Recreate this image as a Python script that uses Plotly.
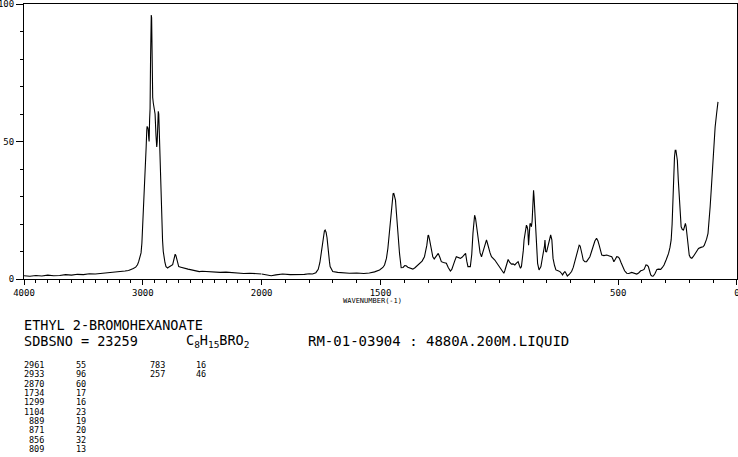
import plotly.graph_objects as go

# ---- spectrum (wavenumber cm-1, relative intensity) ----
wavenumber = [
    4000, 3950, 3900, 3850, 3800, 3750, 3700, 3650, 3600, 3550, 3500, 3450, 3400, 3350, 3300,
    3250, 3200, 3150, 3120, 3100, 3080, 3060, 3045, 3035, 3025, 3015, 3008, 3001, 2996, 2992,
    2986, 2981, 2976, 2972, 2967, 2964, 2958, 2955, 2950, 2947, 2943, 2939, 2935, 2933, 2929,
    2926, 2922, 2917, 2912, 2905, 2897, 2889, 2883, 2879, 2874, 2870, 2866, 2861, 2857, 2852,
    2846, 2842, 2838, 2834, 2828, 2822, 2814, 2805, 2791, 2780, 2771, 2760, 2749, 2740, 2733,
    2728, 2722, 2715, 2706, 2698, 2680, 2660, 2640, 2620, 2600, 2575, 2550, 2525, 2500, 2450,
    2400, 2350, 2300, 2245, 2200, 2150, 2100, 2050, 2000,
    1980, 1960, 1940, 1912, 1880, 1842, 1820, 1800, 1786, 1772, 1762, 1755, 1750, 1745, 1741,
    1736, 1733, 1729, 1725, 1720, 1715, 1712, 1705, 1701, 1680, 1660, 1631, 1600, 1570, 1547,
    1525, 1504, 1490, 1483, 1475, 1469, 1464, 1459, 1455, 1451, 1447, 1444, 1440, 1437, 1433,
    1429, 1424, 1420, 1413, 1405, 1398, 1392, 1385, 1375, 1364, 1355, 1345, 1336, 1325, 1315,
    1310, 1305, 1300, 1298, 1294, 1291, 1286, 1280, 1274, 1268, 1262, 1257, 1250, 1244, 1235,
    1223, 1215, 1206, 1200, 1195, 1188, 1181, 1174, 1164, 1157, 1150, 1145, 1142, 1137, 1132,
    1122, 1116, 1111, 1107, 1104, 1100, 1097, 1092, 1088, 1081, 1075, 1070, 1064, 1058, 1054,
    1050, 1045, 1039, 1033, 1025, 1019, 1012, 1005, 998, 991, 985, 981, 977, 973, 968,
    963, 956, 949, 942, 935, 928, 921, 916, 911, 907, 903, 899, 896, 891, 886,
    883, 880, 877, 874, 871, 868, 865, 862, 860, 858, 856, 854, 852, 849, 846,
    842, 839, 833, 829, 825, 818, 813, 810, 808, 805, 801, 797, 793, 788, 784,
    779, 776, 774, 768, 762, 753, 745, 738, 734, 729, 724, 719, 714, 705, 696,
    689, 682, 677, 672, 667, 664, 660, 657, 652, 647, 640, 633, 626, 619, 612,
    605, 598, 591, 585, 580, 574, 569, 560, 548, 537, 527, 522, 518, 512, 506,
    500, 495, 488, 482, 473, 464, 455, 443, 432, 422, 414, 405, 398, 391, 386,
    383, 378, 373, 368, 363, 357, 352, 345, 337, 330, 321, 314, 307, 298, 288,
    282, 277, 273, 270, 266, 263, 260, 257, 254, 251, 247, 243, 239, 235, 230,
    225, 221, 217, 214, 211, 206, 201, 196, 190, 183, 176, 169, 162, 152, 143,
    138, 134, 128, 122, 118, 113, 108, 103, 97, 92, 86, 80,
]
intensity = [
    1.2, 1.0, 1.3, 1.1, 1.4, 1.2, 1.3, 1.6, 1.4, 1.7, 1.6, 1.9, 1.8, 2.0, 2.1,
    2.4, 2.6, 2.9, 3.1, 3.4, 3.8, 4.3, 5.2, 6.3, 7.8, 9.5, 13, 19, 24, 28,
    35, 41, 45, 48, 54, 55.5, 55, 54.5, 51, 50, 58, 62, 80, 96, 96,
    95, 67, 66, 64, 62, 60, 52, 48, 50, 58, 61, 60, 52, 48, 44,
    30, 22, 17, 14, 10, 8, 6, 4.5, 4.0, 4.4, 4.8, 4.9, 5.2, 6.8, 8.3,
    9.0, 8.6, 7.0, 5.3, 4.5, 4.3, 4.0, 3.9, 3.6, 3.4, 3.1, 2.9, 2.7, 2.8, 2.6,
    2.5, 2.4, 2.5, 2.3, 2.2, 2.0, 2.1, 1.9, 1.8,
    1.6, 1.2, 1.5, 1.8, 1.6, 1.5, 1.7, 1.9, 1.8, 2.3, 3.5, 6.0, 9.3, 13, 15.4,
    17.5, 17.8, 17.0, 15, 9.3, 6.5, 4.5, 3.2, 2.7, 2.4, 2.2, 2.1, 2.2, 2.0, 2.2,
    2.6, 3.3, 4.2, 5.1, 7.5, 11.1, 16, 21.4, 26, 29.9, 31, 31.1, 30, 28.7, 24,
    19, 13, 9.3, 4.1, 4.2, 4.9, 4.8, 4.3, 4.0, 3.6, 4.1, 4.8, 5.7, 6.5, 8.1,
    10, 12.3, 15.8, 16, 14.5, 12.9, 10, 8.1, 7.3, 8.1, 9.0, 9.3, 7.8, 6.3, 6.0,
    5.7, 4.2, 2.9, 3.5, 4.5, 6.5, 8.1, 7.8, 7.5, 7.9, 8.7, 9.3, 9.3, 6.5, 4.5,
    4.5, 9, 16.6, 21, 23.2, 22, 20.2, 16, 12.9, 9.5, 8.1, 9.5, 11.7, 13.5, 14.2,
    13, 11.1, 9.5, 8.1, 7.5, 6.9, 6.0, 5.1, 4.2, 3.3, 2.4, 2.1, 3.0, 4.5, 6.0,
    7.1, 6.0, 5.4, 5.5, 5.1, 5.8, 6.3, 5.0, 3.9, 4.5, 6.9, 10.5, 14.2, 17.5, 19.6,
    19.0, 17.8, 12.3, 15, 20.2, 20.0, 19, 21, 23.8, 28, 32.3, 30, 26.3, 20, 14.2,
    9, 5.7, 3.3, 3.8, 4.5, 8.1, 9.9, 12, 14.2, 10, 9.9, 11.5, 12.9, 14.5, 16,
    14.2, 10, 7.5, 5, 3.3, 3.0, 2.7, 2.0, 1.5, 2.2, 2.7, 2.0, 1.1, 1.8, 2.7,
    4.2, 6.3, 8.2, 9.9, 11.5, 12.3, 12.0, 11.1, 9.0, 6.9, 6.3, 6.3, 7.0, 8.1, 10,
    12.3, 13.8, 14.8, 13.8, 12.3, 10.5, 8.7, 8.5, 8.7, 8.4, 8.1, 7.2, 6.3, 7.2, 8.1,
    8.0, 7.5, 6.0, 4.5, 3.0, 2.1, 2.0, 2.4, 2.0, 1.8, 2.2, 3.0, 3.2, 3.5, 4.5,
    5.1, 5.0, 4.5, 3.0, 1.5, 1.0, 1.1, 2.0, 3.5, 3.6, 3.5, 4.2, 5.1, 7.0, 9.3,
    11.5, 14.2, 20, 28.7, 37, 44.4, 46.8, 46.8, 45, 43.2, 36, 28.7, 22, 19, 18,
    17.8, 19, 20.2, 19, 16.6, 12, 8.7, 7.8, 7.5, 8.3, 9.3, 10.2, 11.1, 11.5, 11.7,
    12.2, 12.9, 14.5, 16.6, 20, 26.3, 33, 40.8, 48, 55.3, 60, 64.4,
]

# ---- axis ticks ----
x_left_ticks = [4000, 3000, 2000]
x_right_ticks = [1500, 500, 0]
y_ticks = [0, 50, 100]

# ---- text block ----
compound = "ETHYL 2-BROMOHEXANOATE"
sdbs_no = "SDBSNO = 23259"
formula = "C<sub>8</sub>H<sub>15</sub>BRO<sub>2</sub>"
sample_info = "RM-01-03904 : 4880A.200M.LIQUID"
axis_title = "WAVENUMBER(-1)"
peak_wn = [2961, 2933, 2870, 1734, 1299, 1104, 889, 871, 856, 809, 783, 257]
peak_int = [55, 96, 60, 17, 16, 23, 19, 20, 32, 13, 16, 46]

# split spectrum at the scale break (2000 cm-1)
left_x = [w for w in wavenumber if w >= 2000]
left_y = [v for w, v in zip(wavenumber, intensity) if w >= 2000]
right_x = [w for w in wavenumber if w <= 2000]
right_y = [v for w, v in zip(wavenumber, intensity) if w <= 2000]

W, H = 738, 457
ML, MR, MT, MB = 24, 1, 4, 178
PW, PH = W - ML - MR, H - MT - MB

def px(x):
    return (x - ML) / PW

def py(y):
    return (H - MB - y) / PH

MONO = "DejaVu Sans Mono"
line = dict(color="black", width=1.1)

fig = go.Figure()
fig.add_trace(go.Scatter(x=left_x, y=left_y, mode="lines", line=line,
                         xaxis="x", yaxis="y", showlegend=False, hoverinfo="skip"))
fig.add_trace(go.Scatter(x=right_x, y=right_y, mode="lines", line=line,
                         xaxis="x2", yaxis="y2", showlegend=False, hoverinfo="skip"))

common_x = dict(showline=True, linecolor="black", linewidth=1, mirror=True,
                ticks="outside", ticklen=5, tickcolor="black", tickwidth=1,
                showgrid=False, zeroline=False, ticklabeloverflow="allow",
                tickfont=dict(family=MONO, size=9, color="black"),
                minor=dict(dtick=100, tick0=0, ticks="outside", ticklen=3,
                           tickcolor="black", tickwidth=1, showgrid=False))

fig.update_layout(
    width=W, height=H,
    margin=dict(l=ML, r=MR, t=MT, b=MB, autoexpand=False),
    paper_bgcolor="white", plot_bgcolor="white",
    hovermode=False,
    xaxis=dict(domain=[0, 1/3], range=[4000, 2000], anchor="y",
               tickmode="array", tickvals=x_left_ticks,
               ticktext=[str(t) for t in x_left_ticks], **common_x),
    xaxis2=dict(domain=[1/3, 1], range=[2000, 0], anchor="y2",
                tickmode="array", tickvals=x_right_ticks,
                ticktext=[str(t) for t in x_right_ticks], **common_x),
    yaxis=dict(domain=[0, 1], range=[0, 100], anchor="x",
               showline=True, linecolor="black", linewidth=1,
               ticks="outside", ticklen=7, tickcolor="black",
               tickmode="array", tickvals=y_ticks,
               ticktext=[str(t) for t in y_ticks], ticklabeloverflow="allow",
               tickfont=dict(family=MONO, size=9, color="black"),
               showgrid=False, zeroline=False,
               minor=dict(dtick=10, ticks="outside", ticklen=3,
                          tickcolor="black", showgrid=False)),
    yaxis2=dict(domain=[0, 1], range=[0, 100], anchor="x2", side="right",
                showline=True, linecolor="black", linewidth=1,
                ticks="", showticklabels=False, showgrid=False, zeroline=False),
)

ann = []
def text(x, y, s, size, anchor="left"):
    ann.append(dict(x=px(x), y=py(y), xref="paper", yref="paper", text=s,
                    showarrow=False, xanchor=anchor, yanchor="middle",
                    font=dict(family=MONO, size=size, color="black")))

text(372, 301, axis_title, 7, "center")
text(22, 325, compound, 13.5)
text(22, 341, sdbs_no, 13.5)
text(184, 341, formula, 13.5)
text(306, 341, sample_info, 14)

for i, (w, v) in enumerate(zip(peak_wn, peak_int)):
    col, row = divmod(i, 10)
    yy = 365 + 9.33 * row
    text(46 + 121 * col, yy, str(w), 8.5, "right")
    text(88 + 120 * col, yy, str(v), 8.5, "right")

fig.update_layout(annotations=ann)
fig.write_html(
    "out.html",
    config={"displayModeBar": False, "staticPlot": True},
    post_script="document.body.style.margin='0';document.body.style.overflow='hidden';",
)
